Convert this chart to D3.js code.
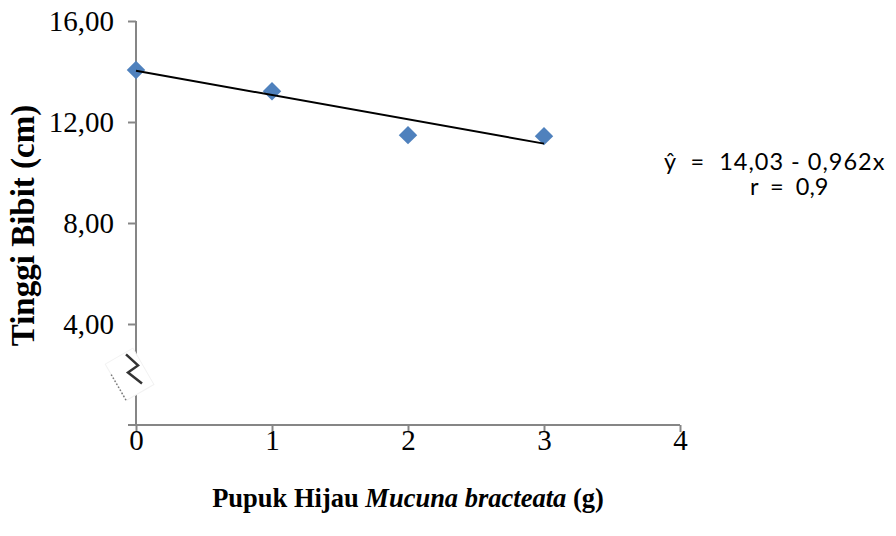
<!DOCTYPE html>
<html>
<head>
<meta charset="utf-8">
<script src="https://cdn.jsdelivr.net/npm/d3@7"></script>
<style>
  body { margin: 0; background: #fff; }
  svg { display: block; }
</style>
</head>
<body>
<svg id="chart" width="896" height="536"></svg>
<script>
var doses = [0, 1, 2, 3]
var heights = [14.06, 13.22, 11.48, 11.44]
var yTicks = [4, 8, 12, 16]
var xTicks = [0, 1, 2, 3, 4]
var intercept = 14.03, slope = -0.962
var equationLines = ["ŷ  =  14,03 - 0,962x", "r  =  0,9"]

var svg = d3.select("#chart")

var x = d3.scaleLinear().domain([0, 4]).range([136, 680])
var y = d3.scaleLinear().domain([0, 16]).range([425, 21])

var fmt = function(d){ return d3.format(".2f")(d).replace(".", ",") }

// y axis
var yAxis = svg.append("g")
    .attr("transform", "translate(" + x(0) + ",0)")
    .call(d3.axisLeft(y).tickValues(yTicks).tickSize(8).tickFormat(fmt))
yAxis.select(".domain").attr("d", "M0," + y(16) + "V" + y(0))
yAxis.selectAll("line, .domain").attr("stroke", "#868686").attr("stroke-width", 2)
yAxis.selectAll("text")
    .attr("font-family", "Liberation Serif, serif")
    .attr("font-size", 29)
    .attr("fill", "#000")
    .attr("x", -22)
    .attr("dy", "0.33em")

// x axis
var xAxis = svg.append("g")
    .attr("transform", "translate(0," + y(0) + ")")
    .call(d3.axisBottom(x).tickValues(xTicks).tickSize(7).tickFormat(d3.format("d")))
xAxis.select(".domain").attr("d", "M" + (x(0) - 8) + ",0H" + x(4))
xAxis.selectAll("line, .domain").attr("stroke", "#868686").attr("stroke-width", 2)
xAxis.selectAll("text")
    .attr("font-family", "Liberation Serif, serif")
    .attr("font-size", 29)
    .attr("fill", "#000")
    .attr("y", 4)
    .attr("dy", "0.71em")

// axis break marker
var bx = x(0), by = y(2.2)
var brk = svg.append("g").attr("transform", "translate(" + bx + "," + by + ") rotate(-30)")
brk.append("rect")
    .attr("x", -24).attr("y", -20).attr("width", 32).attr("height", 42)
    .attr("fill", "#fff").attr("stroke", "#f2f2f2")
brk.append("line")
    .attr("x1", -24).attr("y1", -8).attr("x2", -24).attr("y2", 22)
    .attr("stroke", "#777").attr("stroke-width", 1.5).attr("stroke-dasharray", "1.5,2")
svg.append("path")
    .attr("d", "M" + (bx - 10) + "," + (by - 15) + "L" + (bx + 2) + "," + (by - 4) +
               "L" + (bx - 8) + "," + (by + 3) + "L" + (bx + 6) + "," + (by + 14))
    .attr("fill", "none").attr("stroke", "#333").attr("stroke-width", 2.5)

// points
svg.selectAll("points")
    .data(doses).enter()
    .append("path")
        .attr("d", d3.symbol().type(d3.symbolSquare).size(170))
        .attr("transform", function(d,i){ return "translate(" + x(d) + "," + y(heights[i]) + ") rotate(45)" })
        .attr("fill", "#4f81bd")

// trend line, drawn over the points
var fit = function(d){ return intercept + slope * d }
svg.append("line")
    .attr("x1", x(0)).attr("y1", y(fit(0)))
    .attr("x2", x(3)).attr("y2", y(fit(3)))
    .attr("stroke", "#000").attr("stroke-width", 2)

// axis titles
svg.append("text")
    .attr("transform", "translate(34," + y(7.9) + ") rotate(-90)")
    .attr("text-anchor", "middle")
    .attr("font-family", "Liberation Serif, serif")
    .attr("font-weight", "bold")
    .attr("font-size", 33)
    .text("Tinggi Bibit (cm)")

var xt = svg.append("text")
    .attr("x", 408).attr("y", 507)
    .attr("text-anchor", "middle")
    .attr("font-family", "Liberation Serif, serif")
    .attr("font-weight", "bold")
    .attr("font-size", 26.5)
xt.append("tspan").text("Pupuk Hijau ")
xt.append("tspan").attr("font-style", "italic").text("Mucuna bracteata")
xt.append("tspan").text(" (g)")

// equation
svg.selectAll("eq")
    .data(equationLines).enter()
    .append("text")
        .attr("x", function(d,i){ return i == 0 ? 664 : 750 })
        .attr("y", function(d,i){ return 170 + i*25 })
        .attr("font-family", "Lato, sans-serif")
        .attr("font-size", 23.5)
        .attr("letter-spacing", function(d,i){ return i == 0 ? 1 : 0 })
        .style("white-space", "pre")
        .text(function(d){ return d })
</script>
</body>
</html>
